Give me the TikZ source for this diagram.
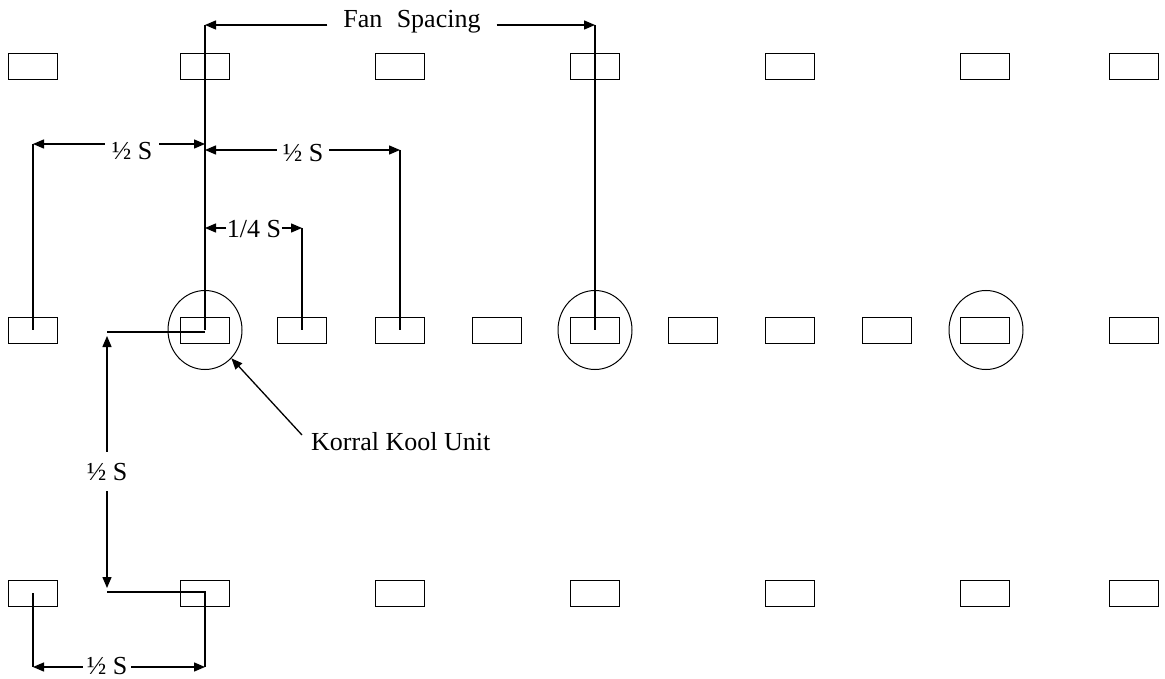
\documentclass[tikz,border=0pt]{standalone}
\usepackage{fontspec}
\setmainfont{Liberation Serif}
\usetikzlibrary{arrows.meta,shapes.geometric}
\begin{document}
\begin{tikzpicture}[x=1pt,y=-1pt,
  unit/.style={draw,line width=1pt,minimum width=49pt,minimum height=26pt,inner sep=0pt},
  ring/.style={draw,ellipse,line width=1pt,minimum width=74pt,minimum height=79pt,inner sep=0pt},
  lbl/.style={font=\fontsize{26}{28}\selectfont,anchor=base,inner xsep=5pt,inner ysep=2pt},
  ln/.style={line width=1.3pt},
  arr/.style={line width=1.3pt,-{Triangle[length=11pt,width=9pt]}}]
\path[use as bounding box] (0,0) rectangle (1165,679);
% fan units
\foreach \n/\x in {a/33,b/205,c/400,d/595,e/790,f/985,g/1134} {
  \node[unit] (t\n) at (\x,67) {};
  \node[unit] (u\n) at (\x,593) {};
}
\foreach \n/\x in {a/33,b/205,h/302,c/400,i/497,d/595,j/693,e/790,k/887,f/985,g/1134} {
  \node[unit] (m\n) at (\x,330) {};
}
\node[ring] (cb) at (205,330) {};
\node[ring] (cd) at (595,330) {};
\node[ring] (cf) at (986,330) {};
% Fan spacing
\coordinate (fsA) at (205,25);
\coordinate (fsB) at (595,25);
\node[lbl,inner xsep=16pt] (fs) at (412,28) {Fan\hspace{0.55em}Spacing};
\draw[arr] (fs.west |- fsA) -- (fsA);
\draw[arr] (fs.east |- fsB) -- (fsB);
\draw[ln] (fsA) -- (mb.center);
\draw[ln] (fsB) -- (md.center);
% left half S
\coordinate (hlA) at (33,144);
\coordinate (hlB) at (205,144);
\node[lbl,inner xsep=7pt] (hl) at (132,160) {½ S};
\draw[arr] (hl.west |- hlA) -- (hlA);
\draw[arr] (hl.east |- hlB) -- (hlB);
\draw[ln] (hlA) -- (ma.center);
% right half S
\coordinate (hrA) at (205,150);
\coordinate (hrB) at (400,150);
\node[lbl,inner xsep=6pt] (hr) at (303,162) {½ S};
\draw[arr] (hr.west |- hrA) -- (hrA);
\draw[arr] (hr.east |- hrB) -- (hrB);
\draw[ln] (hrB) -- (mc.center);
% quarter S
\coordinate (qA) at (205,228);
\coordinate (qB) at (302,228);
\node[lbl,inner xsep=0.5pt] (q) at (254,238) {1/4 S};
\draw[arr] (q.west |- qA) -- (qA);
\draw[arr] (q.east |- qB) -- (qB);
\draw[ln] (qB) -- (mh.center);
% vertical half S
\coordinate (vA) at (107,332);
\coordinate (vAt) at (107,336);
\coordinate (vB) at (107,592);
\coordinate (vBt) at (107,588);
\node[lbl,inner ysep=11pt] (vl) at (107,480) {½ S};
\draw[ln] (vA) -- (vA -| mb.center);
\draw[arr] (vl.north) -- (vAt);
\draw[arr] (vl.south) -- (vBt);
% bottom half S
\coordinate (bA) at (33,667);
\coordinate (bB) at (205,667);
\node[lbl,inner xsep=4pt] (bl) at (107,674) {½ S};
\draw[ln] (vB) -- (vB -| ub.center) -- (bB);
\draw[ln] (ua.center) -- (bA);
\draw[arr] (bl.west |- bA) -- (bA);
\draw[arr] (bl.east |- bB) -- (bB);
% Korral Kool Unit
\node[lbl,anchor=base west,inner xsep=4pt] (kk) at (307,450) {Korral Kool Unit};
\coordinate (kA) at (302,435);
\draw[arr] (kA) -- (cb.-47);
\end{tikzpicture}
\end{document}
